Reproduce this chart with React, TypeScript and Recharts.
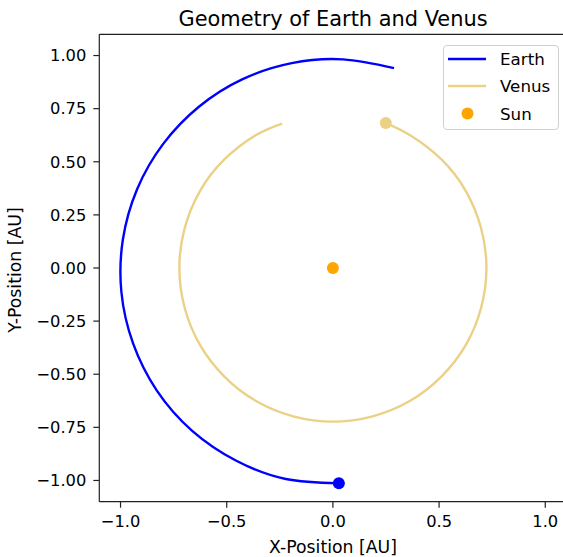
import React from 'react';
import {
  ComposedChart,
  Line,
  Scatter,
  XAxis,
  YAxis,
  ReferenceLine,
} from 'recharts';

// Earth orbit path (AU), counter-clockwise
const earthX = [0.288, 0.048, -0.194, -0.425, -0.631, -0.8, -0.922, -0.989, -0.996, -0.941, -0.829, -0.664, -0.457, -0.222, 0.028];
const earthY = [0.941, 0.982, 0.964, 0.889, 0.759, 0.583, 0.371, 0.134, -0.113, -0.355, -0.577, -0.765, -0.906, -0.993, -1.013];

// Venus orbit path (AU)
const venusX = [-0.239, -0.362, -0.511, -0.626, -0.698, -0.723, -0.698, -0.626, -0.511, -0.362, -0.187, 0.0, 0.187, 0.362, 0.511, 0.626, 0.698, 0.723, 0.698, 0.626, 0.511, 0.362, 0.249];
const venusY = [0.68, 0.626, 0.511, 0.362, 0.187, 0.0, -0.187, -0.362, -0.511, -0.626, -0.698, -0.723, -0.698, -0.626, -0.511, -0.362, -0.187, 0.0, 0.187, 0.362, 0.511, 0.626, 0.682];

const sunPos = [0, 0];

const xTicks = [-1.0, -0.5, 0.0, 0.5, 1.0];
const yTicks = [-1.0, -0.75, -0.5, -0.25, 0.0, 0.25, 0.5, 0.75, 1.0];

const EARTH = '#0000ff';
const VENUS = '#ebd186';
const SUN = '#ffa500';
const FONT = '"DejaVu Sans", sans-serif';

const toRows = (xs: number[], ys: number[]) => xs.map((x, i) => ({ x, y: ys[i] }));

const earthData = toRows(earthX, earthY);
const venusData = toRows(venusX, venusY);
const earthNow = [earthData[earthData.length - 1]];
const venusNow = [venusData[venusData.length - 1]];
const sunData = [{ x: sunPos[0], y: sunPos[1] }];

const fmt = (digits: number) => (v: number) => v.toFixed(digits).replace('-', '\u2212');

const dot = (color: string) => (p: any) => <circle cx={p.cx} cy={p.cy} r={6} fill={color} />;

const tickStyle = { fill: '#000', fontSize: 16.3, fontFamily: FONT };

export default function App() {
  return (
    <div style={{ position: 'fixed', left: 0, top: 0, width: 563, height: 557, overflow: 'hidden', background: '#fff' }}>
      <ComposedChart
        width={600}
        height={557}
        margin={{ top: 34.3, right: 33.5, bottom: 0, left: 0 }}
      >
        <XAxis
          type="number"
          dataKey="x"
          domain={[-1.1, 1.1]}
          ticks={xTicks}
          tickFormatter={fmt(1)}
          allowDataOverflow
          height={55.3}
          tickSize={6}
          tickMargin={8}
          tick={tickStyle}
          stroke="#222"
          axisLine={{ stroke: '#222', strokeWidth: 1.2 }}
          tickLine={{ stroke: '#222', strokeWidth: 1.2 }}
        />
        <YAxis
          type="number"
          dataKey="y"
          domain={[-1.1, 1.1]}
          ticks={yTicks}
          tickFormatter={fmt(2)}
          allowDataOverflow
          width={99.3}
          tickSize={6}
          tickMargin={7}
          tick={tickStyle}
          stroke="#222"
          axisLine={{ stroke: '#222', strokeWidth: 1.2 }}
          tickLine={{ stroke: '#222', strokeWidth: 1.2 }}
        />
        <ReferenceLine y={1.1} stroke="#222" strokeWidth={1.2} />
        <ReferenceLine x={1.1} stroke="#222" strokeWidth={1.2} />
        <Line
          data={earthData}
          dataKey="y"
          type="natural"
          stroke={EARTH}
          strokeWidth={2.4}
          dot={false}
          activeDot={false}
          isAnimationActive={false}
        />
        <Line
          data={venusData}
          dataKey="y"
          type="natural"
          stroke={VENUS}
          strokeWidth={2.4}
          dot={false}
          activeDot={false}
          isAnimationActive={false}
        />
        <Scatter data={sunData} dataKey="y" shape={dot(SUN)} isAnimationActive={false} />
        <Scatter data={earthNow} dataKey="y" shape={dot(EARTH)} isAnimationActive={false} />
        <Scatter data={venusNow} dataKey="y" shape={dot(VENUS)} isAnimationActive={false} />
      </ComposedChart>

      {/* title and axis labels */}
      <div style={{ position: 'absolute', left: 133, width: 400, top: 6.5, textAlign: 'center', fontFamily: FONT, fontSize: 20.9, lineHeight: 1.164, color: '#000' }}>
        Geometry of Earth and Venus
      </div>
      <div style={{ position: 'absolute', left: 183, width: 300, top: 537, textAlign: 'center', fontFamily: FONT, fontSize: 17.3, lineHeight: 1.164, color: '#000' }}>
        X-Position [AU]
      </div>
      <div style={{ position: 'absolute', left: 15, top: 270, width: 0, height: 0 }}>
        <div style={{ position: 'absolute', left: -100, top: -11, width: 200, textAlign: 'center', transform: 'rotate(-90deg)', fontFamily: FONT, fontSize: 17.3, color: '#000', lineHeight: '22px' }}>
          Y-Position [AU]
        </div>
      </div>

      {/* legend */}
      <div style={{ position: 'absolute', left: 442.5, top: 45, width: 114, height: 83, border: '1px solid #d0d0d0', borderRadius: 4, background: 'rgba(255,255,255,0.8)', fontFamily: FONT, fontSize: 16.7, color: '#000' }}>
        <svg width={114} height={83} style={{ position: 'absolute', left: 0, top: 0 }}>
          <line x1={4} x2={42} y1={13} y2={13} stroke={EARTH} strokeWidth={2.4} />
          <line x1={4} x2={42} y1={40} y2={40} stroke={VENUS} strokeWidth={2.4} />
          <circle cx={23.5} cy={67.5} r={6} fill={SUN} />
          <text x={56} y={19} fontSize={16.7} fontFamily={FONT}>Earth</text>
          <text x={56} y={46} fontSize={16.7} fontFamily={FONT}>Venus</text>
          <text x={56} y={73.5} fontSize={16.7} fontFamily={FONT}>Sun</text>
        </svg>
      </div>
    </div>
  );
}
